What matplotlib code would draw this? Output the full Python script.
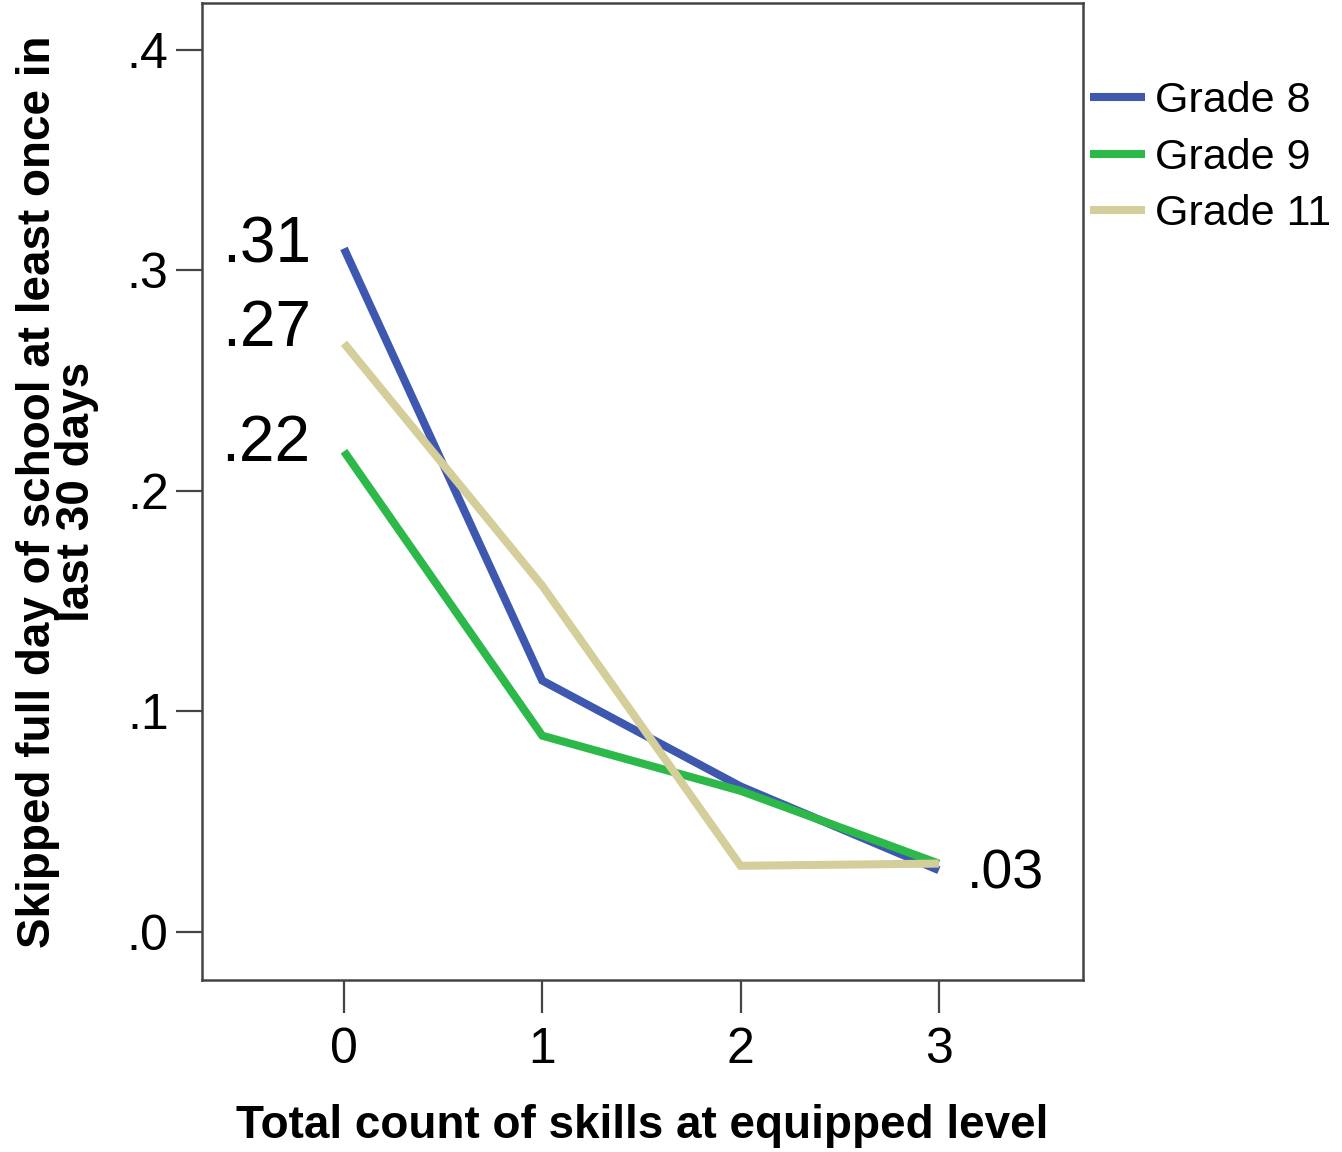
import matplotlib
matplotlib.use("Agg")
import matplotlib.pyplot as plt

# Data
skills = [0, 1, 2, 3]
grade8 = [0.310, 0.114, 0.066, 0.028]
grade9 = [0.218, 0.089, 0.064, 0.031]
grade11 = [0.267, 0.157, 0.030, 0.031]
series_names = ["Grade 8", "Grade 9", "Grade 11"]
yticks = [0.0, 0.1, 0.2, 0.3, 0.4]
ytick_labels = [".0", ".1", ".2", ".3", ".4"]

colors = ["#3E58B0", "#2DB84A", "#D4CF9A"]
FONT = ["Liberation Sans", "DejaVu Sans"]
plt.rcParams["font.family"] = FONT

fig = plt.figure(figsize=(13.42, 11.52), dpi=100)
ax = fig.add_axes([202/1342, 1 - 980/1152, (1083-202)/1342, (980-3)/1152])

for vals, c, name in zip([grade8, grade9, grade11], colors, series_names):
    ax.plot(skills, vals, color=c, lw=5.8, solid_capstyle="butt",
            solid_joinstyle="miter", label=name)

ax.set_xlim(-0.716, 3.727)
ax.set_ylim(-0.0218, 0.4213)
ax.set_xticks(skills)
ax.set_xticklabels([str(s) for s in skills])
ax.set_yticks(yticks)
ax.set_yticklabels(ytick_labels)
ax.tick_params(axis="y", length=19, width=1.6, color="#444444", labelsize=36, pad=5)
ax.tick_params(axis="x", length=24, width=1.6, color="#444444", labelsize=36, pad=10)
for s in ax.spines.values():
    s.set_color("#444444")
    s.set_linewidth(1.8)

# value labels
for vals, dy in zip([grade8, grade11, grade9], [2, 10, 5]):
    ax.annotate(f"{vals[0]:.2f}".lstrip("0"), xy=(skills[0], vals[0]),
                xytext=(-24, dy), textcoords="offset points",
                ha="right", va="center", fontsize=46)
ax.annotate(f"{grade11[-1]:.2f}".lstrip("0"), xy=(skills[-1], grade11[-1]),
            xytext=(20, -8), textcoords="offset points",
            ha="left", va="center", fontsize=40)

ax.set_xlabel("Total count of skills at equipped level", fontsize=33,
              fontweight="bold", labelpad=22)
ax.set_ylabel("Skipped full day of school at least once in\nlast 30 days",
              fontsize=33, fontweight="bold", labelpad=20, linespacing=0.85)

leg = fig.legend(loc="upper left", bbox_to_anchor=(1073/1342, 1 - 64/1152),
                 frameon=False, fontsize=31, handlelength=1.28,
                 handletextpad=0.23, labelspacing=0.38, borderaxespad=0)
for h in leg.legend_handles:
    h.set_linewidth(5.8)

fig.savefig("out.png", dpi=100)
